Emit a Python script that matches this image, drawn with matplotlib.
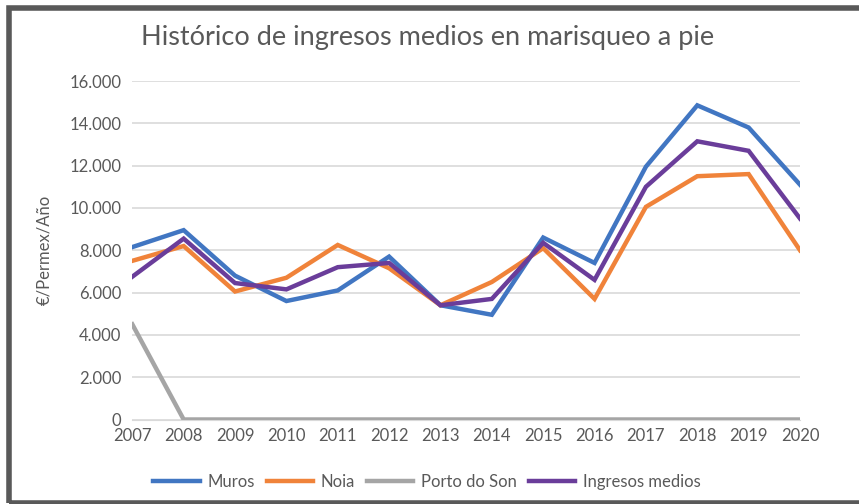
import matplotlib.pyplot as plt
from matplotlib.ticker import FuncFormatter
from matplotlib.patches import Rectangle

# datos
years = [2007, 2008, 2009, 2010, 2011, 2012, 2013, 2014, 2015, 2016, 2017, 2018, 2019, 2020]
muros = [8150, 8950, 6800, 5600, 6100, 7700, 5400, 4950, 8600, 7400, 11950, 14850, 13800, 11100]
noia = [7500, 8200, 6050, 6700, 8250, 7150, 5400, 6500, 8100, 5700, 10050, 11500, 11600, 8000]
porto_do_son = [4500, 0, 0, 0, 0, 0, 0, 0, 0, 0, 0, 0, 0, 0]
ingresos_medios = [6750, 8550, 6450, 6150, 7200, 7400, 5400, 5700, 8350, 6600, 11000, 13150, 12700, 9500]

plt.rcParams['font.family'] = ['Lato', 'DejaVu Sans']
txt = '#595959'

fig = plt.figure(figsize=(8.59, 5.04), dpi=100)
ax = fig.add_axes([132.3 / 859, 1 - 419.5 / 504, (800 - 132.3) / 859, (419.5 - 81) / 504])

ax.plot(years, muros, color='#4176C2', lw=3.2, label='Muros', solid_joinstyle='miter')
ax.plot(years, noia, color='#F0833A', lw=3.2, label='Noia', solid_joinstyle='miter')
ax.plot(years, porto_do_son, color='#A5A5A5', lw=3.2, label='Porto do Son', solid_joinstyle='miter')
ax.plot(years, ingresos_medios, color='#6A3D9A', lw=3.2, label='Ingresos medios', solid_joinstyle='miter')

ax.set_xlim(2007, 2020)
ax.set_ylim(0, 16000)
ax.set_yticks(range(0, 16001, 2000))
ax.set_xticks(years)
ax.yaxis.set_major_formatter(FuncFormatter(lambda v, p: f'{int(v):,}'.replace(',', '.')))
ax.grid(axis='y', color='#D9D9D9', lw=1.2)
ax.set_axisbelow(True)
for s in ['top', 'right', 'left']:
    ax.spines[s].set_visible(False)
ax.spines['bottom'].set_color('#D9D9D9')
ax.tick_params(length=0, labelsize=12, colors=txt)
ax.tick_params(axis='y', pad=8)
ax.tick_params(axis='x', pad=6)
ax.set_ylabel('€/Permex/Año', fontsize=12, color=txt, labelpad=12)

fig.text(0.498, 1 - 37 / 504, 'Histórico de ingresos medios en marisqueo a pie',
         ha='center', va='center', fontsize=19.5, color=txt)

fig.legend(loc='center', bbox_to_anchor=(0.497, 1 - 482 / 504), ncol=4, frameon=False,
           fontsize=12, handlelength=2.8, handletextpad=0.45, columnspacing=0.7, labelcolor=txt)

# marco
fig.patches.append(Rectangle((8.5 / 859, 1.5 / 504), 1.1, 494.5 / 504, transform=fig.transFigure,
                             fill=False, edgecolor='#595959', lw=4))

fig.savefig('out.png', dpi=100)
